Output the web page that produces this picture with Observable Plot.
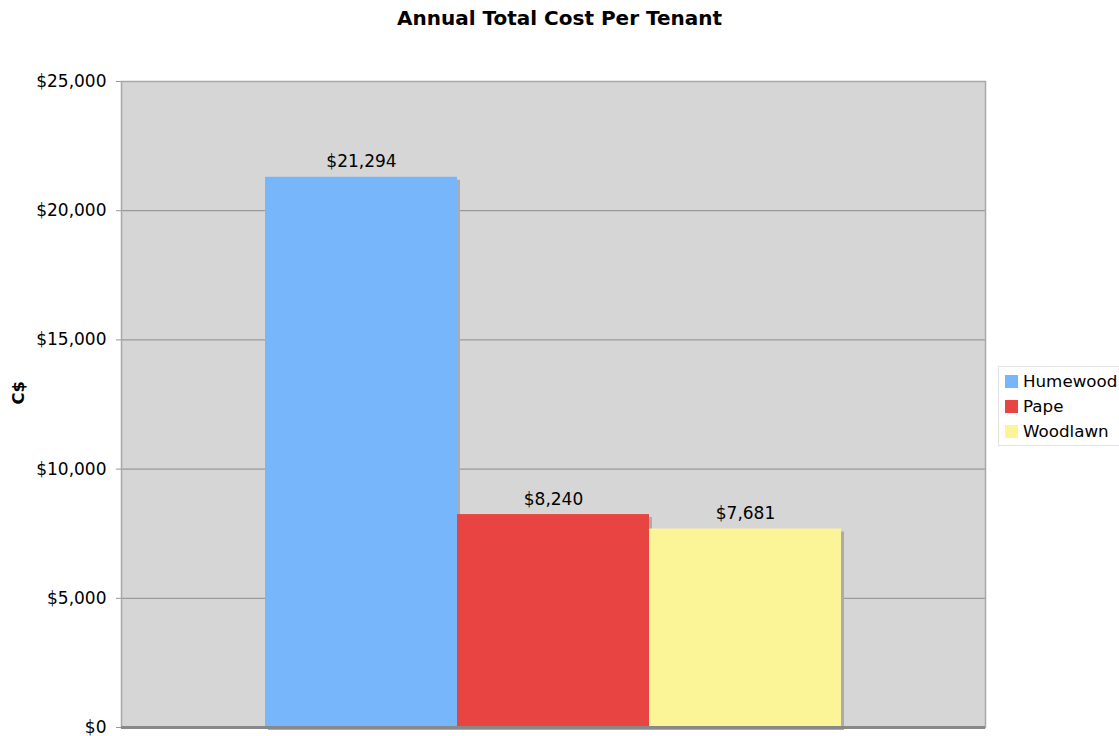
<!DOCTYPE html>
<html>
<head>
<meta charset="utf-8">
<script src="https://cdn.jsdelivr.net/npm/d3@7"></script>
<script src="https://cdn.jsdelivr.net/npm/@observablehq/plot@0.6"></script>
<style>
  body { margin: 0; background: #fff; font-family: "DejaVu Sans", Verdana, sans-serif; }
  #wrap { position: relative; width: 1119px; height: 736px; overflow: hidden; }
  #title { height: 36px; line-height: 36px; text-align: center; font-weight: bold; font-size: 20px; color: #000; }
  #legend { position: absolute; left: 998px; top: 366px; width: 130px; height: 80px; border: 1px solid #e2e2e2; box-sizing: border-box; background: #fff; }
  .item { position: absolute; left: 6px; font-size: 16.7px; line-height: 20px; color: #000; white-space: nowrap; }
  .sw { display: inline-block; width: 13px; height: 13px; margin-right: 5px; vertical-align: -1px; }
</style>
</head>
<body>
<div id="wrap">
  <div id="title"></div>
  <div id="chart"></div>
  <div id="legend"></div>
</div>
<script>
const title = "Annual Total Cost Per Tenant";
const yLabel = "C$";
const names = ["Humewood", "Pape", "Woodlawn"];
const values = [21294, 8240, 7681];
const colors = ["#77b6fb", "#e84542", "#fbf597"];
const yTicks = [0, 5000, 10000, 15000, 20000, 25000];

const data = names.map((n, i) => ({name: n, value: values[i]}));
const fmt = d3.format("$,d");

document.getElementById("title").textContent = title;

const plot = Plot.plot({
  width: 1119,
  height: 700,
  marginTop: 45,
  marginBottom: 9,
  marginLeft: 121,
  marginRight: 134,
  style: {fontFamily: "DejaVu Sans, Verdana, sans-serif", fontSize: "17px", color: "#000", background: "transparent"},
  x: {domain: names, paddingInner: 0, paddingOuter: 0.75, axis: null},
  y: {domain: [0, 25000], axis: null},
  color: {domain: names, range: colors},
  marks: [
    Plot.frame({fill: "#d6d6d6", stroke: "none"}),
    Plot.gridY(yTicks, {stroke: "#8c8c8c", strokeOpacity: 1, strokeWidth: 1}),
    Plot.frame({stroke: "#a8a8a8", strokeWidth: 1.5}),
    Plot.barY(data, {x: "name", y: "value", fill: "#ababab", dx: 3, dy: 3}),
    Plot.barY(data, {x: "name", y: "value", fill: "name"}),
    Plot.text(data, {x: "name", y: "value", text: d => fmt(d.value), lineAnchor: "bottom", dy: -10, fontSize: 17, fill: "#000"}),
    Plot.ruleX([0], {frameAnchor: "left", stroke: "#888", strokeWidth: 2}),
    Plot.ruleY([0], {stroke: "#888", strokeWidth: 3}),
    Plot.axisY({ticks: yTicks, tickFormat: fmt, tickSize: 5, tickPadding: 10, stroke: "#999", label: null, fontWeight: "normal", fontSize: 17}),
    Plot.text([yLabel], {frameAnchor: "left", dx: -103, rotate: -90, fontWeight: "bold", fontSize: 16.5, fill: "#000"})
  ]
});
document.getElementById("chart").appendChild(plot);

const legend = document.getElementById("legend");
names.forEach((n, i) => {
  const div = document.createElement("div");
  div.className = "item";
  div.style.top = (4 + i * 25) + "px";
  div.innerHTML = `<span class="sw" style="background:${colors[i]}"></span>${n}`;
  legend.appendChild(div);
});
</script>
</body>
</html>
